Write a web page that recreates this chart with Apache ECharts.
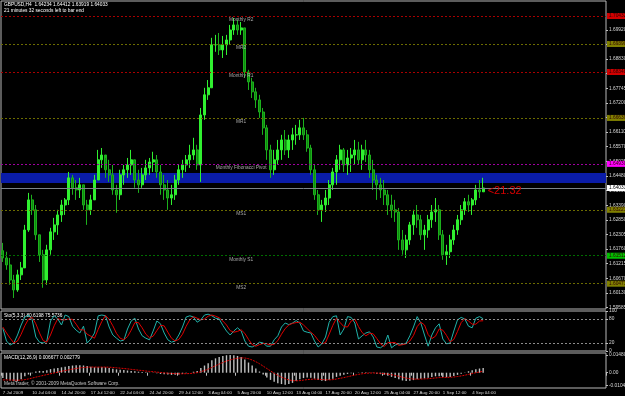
<!DOCTYPE html>
<html>
<head>
<meta charset="utf-8">
<title>GBPUSD,H4</title>
<script src="https://cdn.jsdelivr.net/npm/echarts@6/dist/echarts.min.js"></script>
<style>
html, body { margin: 0; padding: 0; background: #000; }
#chart { width: 625px; height: 396px; }
</style>
</head>
<body>
<div id="chart"></div>
<script>
var firstOpen = 1.6170;
var closes = [
  1.6143, 1.6117, 1.6061, 1.6024, 1.6080, 1.6106, 1.6247, 1.6359, 1.6322, 1.6229,
  1.6155, 1.6061, 1.6173, 1.6240, 1.6266, 1.6303, 1.6340, 1.6359, 1.6441, 1.6404,
  1.6396, 1.6415, 1.6340, 1.6322, 1.6359, 1.6433, 1.6508, 1.6526, 1.6471, 1.6452,
  1.6396, 1.6378, 1.6452, 1.6471, 1.6489, 1.6508, 1.6433, 1.6415, 1.6452, 1.6478,
  1.6500, 1.6508, 1.6463, 1.6415, 1.6396, 1.6366, 1.6378, 1.6433, 1.6471, 1.6489,
  1.6508, 1.6526, 1.6545, 1.6489, 1.6675, 1.6750, 1.6776, 1.6936, 1.6936, 1.6917,
  1.6936, 1.6954, 1.6991, 1.7010, 1.6991, 1.6999, 1.6835, 1.6798, 1.6761, 1.6731,
  1.6686, 1.6627, 1.6545, 1.6471, 1.6508, 1.6545, 1.6582, 1.6545, 1.6582, 1.6601,
  1.6601, 1.6627, 1.6601, 1.6552, 1.6471, 1.6378, 1.6322, 1.6340, 1.6366, 1.6415,
  1.6463, 1.6508, 1.6545, 1.6489, 1.6515, 1.6526, 1.6545, 1.6508, 1.6545, 1.6526,
  1.6471, 1.6433, 1.6415, 1.6396, 1.6378, 1.6340, 1.6322, 1.6314, 1.6210, 1.6173,
  1.6210, 1.6266, 1.6303, 1.6285, 1.6229, 1.6247, 1.6285, 1.6314, 1.6322, 1.6229,
  1.6155, 1.6166, 1.6210, 1.6247, 1.6285, 1.6322, 1.6352, 1.6340, 1.6359, 1.6396,
  1.6389, 1.64033
];
var highs = [
  1.6199, 1.6166, 1.6143, 1.6080, 1.6099, 1.6128, 1.6266, 1.6385, 1.6378, 1.6340,
  1.6229, 1.6173, 1.6192, 1.6255, 1.6292, 1.6322, 1.6359, 1.6366, 1.6463, 1.6452,
  1.6433, 1.6441, 1.6415, 1.6359, 1.6378, 1.6452, 1.6545, 1.6552, 1.6515, 1.6508,
  1.6489, 1.6415, 1.6471, 1.6489, 1.6515, 1.6545, 1.6508, 1.6471, 1.6478, 1.6508,
  1.6515, 1.6538, 1.6526, 1.6489, 1.6452, 1.6433, 1.6415, 1.6452, 1.6489, 1.6508,
  1.6526, 1.6564, 1.6590, 1.6564, 1.6701, 1.6776, 1.6805, 1.6962, 1.6973, 1.6980,
  1.6969, 1.6973, 1.7010, 1.7036, 1.7029, 1.7021, 1.6999, 1.6843, 1.6813, 1.6776,
  1.6750, 1.6701, 1.6638, 1.6564, 1.6545, 1.6582, 1.6601, 1.6619, 1.6601, 1.6627,
  1.6638, 1.6657, 1.6664, 1.6619, 1.6564, 1.6489, 1.6396, 1.6359, 1.6396, 1.6433,
  1.6478, 1.6526, 1.6564, 1.6552, 1.6545, 1.6552, 1.6582, 1.6575, 1.6564, 1.6582,
  1.6545, 1.6508, 1.6452, 1.6441, 1.6433, 1.6396, 1.6378, 1.6359, 1.6329, 1.6247,
  1.6229, 1.6277, 1.6322, 1.6340, 1.6303, 1.6266, 1.6303, 1.6340, 1.6366, 1.6340,
  1.6247, 1.6192, 1.6229, 1.6266, 1.6303, 1.6340, 1.6366, 1.6378, 1.6366, 1.6415,
  1.6433, 1.64412
];
var lows = [
  1.6128, 1.6099, 1.6043, 1.5994, 1.6017, 1.6061, 1.6106, 1.6240, 1.6303, 1.6210,
  1.6128, 1.6032, 1.6043, 1.6155, 1.6210, 1.6229, 1.6277, 1.6303, 1.6340, 1.6378,
  1.6359, 1.6366, 1.6322, 1.6266, 1.6303, 1.6359, 1.6433, 1.6478, 1.6441, 1.6426,
  1.6378, 1.6311, 1.6359, 1.6415, 1.6441, 1.6452, 1.6404, 1.6385, 1.6404, 1.6433,
  1.6452, 1.6463, 1.6441, 1.6378, 1.6359, 1.6322, 1.6340, 1.6359, 1.6415, 1.6441,
  1.6463, 1.6478, 1.6508, 1.6471, 1.6426, 1.6657, 1.6731, 1.6776, 1.6910, 1.6898,
  1.6887, 1.6898, 1.6936, 1.6973, 1.6973, 1.6973, 1.6813, 1.6768, 1.6738, 1.6701,
  1.6664, 1.6601, 1.6508, 1.6441, 1.6452, 1.6489, 1.6508, 1.6526, 1.6515, 1.6545,
  1.6564, 1.6582, 1.6582, 1.6538, 1.6452, 1.6359, 1.6303, 1.6277, 1.6314, 1.6340,
  1.6396, 1.6415, 1.6471, 1.6463, 1.6452, 1.6463, 1.6489, 1.6489, 1.6471, 1.6500,
  1.6441, 1.6396, 1.6359, 1.6366, 1.6340, 1.6303, 1.6292, 1.6277, 1.6173, 1.6155,
  1.6143, 1.6192, 1.6229, 1.6255, 1.6210, 1.6173, 1.6218, 1.6255, 1.6277, 1.6210,
  1.6136, 1.6117, 1.6143, 1.6192, 1.6229, 1.6266, 1.6303, 1.6314, 1.6303, 1.6340,
  1.6366, 1.63919
];

// Stochastic (5,3,3)
var stoMain = [
  57, 25, 15, 20, 40, 65, 85, 90, 78, 35,
  22, 20, 25, 75, 88, 80, 65, 90, 86, 62,
  52, 45, 62, 20, 30, 45, 88, 90, 88, 60,
  40, 32, 25, 27, 55, 75, 82, 55, 38, 32,
  28, 50, 75, 68, 45, 28, 22, 25, 40, 60,
  85, 88, 85, 72, 78, 90, 92, 88, 82, 80,
  64, 50, 40, 50, 58, 50, 25, 12, 10, 15,
  22, 20, 12, 12, 28, 38, 60, 70, 66, 70,
  76, 70, 50, 47, 45, 25, 10, 18, 35, 72,
  86, 88, 40, 55, 86, 84, 70, 30, 38, 45,
  48, 35, 10, 8, 15, 40, 8, 15, 18, 16,
  20, 38, 60, 86, 70, 40, 12, 40, 58, 68,
  30, 18, 20, 50, 78, 84, 80, 62, 58, 82,
  86, 80.6
];
var stoSignal = [
  60, 45, 32, 20, 25, 42, 63, 80, 84, 68,
  45, 26, 22, 40, 63, 81, 78, 78, 80, 79,
  67, 53, 53, 42, 37, 32, 54, 74, 89, 79,
  63, 44, 32, 28, 36, 52, 71, 71, 58, 42,
  33, 37, 51, 64, 63, 47, 32, 25, 29, 42,
  62, 78, 86, 82, 78, 80, 87, 90, 87, 83,
  75, 65, 51, 47, 49, 53, 44, 29, 16, 12,
  16, 19, 18, 15, 17, 26, 42, 56, 65, 69,
  71, 72, 65, 56, 47, 39, 27, 18, 21, 42,
  64, 82, 71, 61, 60, 75, 80, 61, 46, 38,
  44, 43, 31, 18, 11, 21, 21, 21, 14, 16,
  18, 25, 39, 61, 72, 65, 41, 31, 37, 55,
  52, 39, 23, 29, 49, 71, 81, 75, 67, 67,
  75, 75.6
];

// MACD (12,26,9)
var macdHist = [
  -0.0045, -0.0055, -0.0065, -0.0072, -0.0070, -0.0055, -0.0030, -0.0015, -0.0005, 0.0010,
  0.0015, 0.0015, 0.0020, 0.0030, 0.0035, 0.0040, 0.0045, 0.0050, 0.0055, 0.0060,
  0.0062, 0.0062, 0.0060, 0.0055, 0.0050, 0.0045, 0.0045, 0.0048, 0.0045, 0.0040,
  0.0032, 0.0028, 0.0025, 0.0022, 0.0018, 0.0015, 0.0012, 0.0008, 0.0005, 0.0003,
  0.0002, -0.0002, -0.0005, -0.0010, -0.0013, -0.0015, -0.0018, -0.0018, -0.0015, -0.0010,
  -0.0005, 0.0000, 0.0008, 0.0015, 0.0040, 0.0060, 0.0080, 0.0105, 0.0120, 0.0132,
  0.0140, 0.0146, 0.0148, 0.0146, 0.0140, 0.0132, 0.0110, 0.0085, 0.0060, 0.0035,
  0.0010, -0.0015, -0.0040, -0.0060, -0.0075, -0.0088, -0.0095, -0.0100, -0.0095, -0.0085,
  -0.0070, -0.0055, -0.0045, -0.0040, -0.0042, -0.0050, -0.0060, -0.0068, -0.0070, -0.0062,
  -0.0050, -0.0035, -0.0025, -0.0018, -0.0010, -0.0005, 0.0000, 0.0002, 0.0003, 0.0004,
  0.0002, -0.0002, -0.0008, -0.0012, -0.0018, -0.0025, -0.0035, -0.0045, -0.0055, -0.0065,
  -0.0070, -0.0068, -0.0062, -0.0055, -0.0050, -0.0048, -0.0042, -0.0035, -0.0030, -0.0030,
  -0.0035, -0.0038, -0.0035, -0.0028, -0.0018, -0.0008, 0.0002, 0.0012, 0.0020, 0.0028,
  0.0035, 0.0040
];
var macdSignal = [
  -0.0060, -0.0060, -0.0061, -0.0062, -0.0063, -0.0062, -0.0058, -0.0052, -0.0045, -0.0037,
  -0.0030, -0.0023, -0.0016, -0.0009, -0.0002, 0.0005, 0.0012, 0.0018, 0.0024, 0.0030,
  0.0035, 0.0040, 0.0043, 0.0046, 0.0047, 0.0047, 0.0047, 0.0047, 0.0047, 0.0046,
  0.0044, 0.0041, 0.0038, 0.0035, 0.0032, 0.0028, 0.0025, 0.0021, 0.0018, 0.0014,
  0.0011, 0.0008, 0.0005, 0.0002, -0.0001, -0.0004, -0.0006, -0.0008, -0.0009, -0.0009,
  -0.0008, -0.0007, -0.0004, 0.0000, 0.0008, 0.0018, 0.0030, 0.0044, 0.0058, 0.0072,
  0.0085, 0.0097, 0.0107, 0.0115, 0.0121, 0.0124, 0.0123, 0.0117, 0.0106, 0.0092,
  0.0075, 0.0055, 0.0035, 0.0015, -0.0005, -0.0022, -0.0037, -0.0050, -0.0060, -0.0066,
  -0.0068, -0.0066, -0.0062, -0.0058, -0.0055, -0.0054, -0.0055, -0.0057, -0.0059, -0.0060,
  -0.0058, -0.0053, -0.0047, -0.0041, -0.0034, -0.0027, -0.0020, -0.0014, -0.0009, -0.0005,
  -0.0003, -0.0002, -0.0003, -0.0005, -0.0008, -0.0012, -0.0017, -0.0023, -0.0030, -0.0038,
  -0.0045, -0.0050, -0.0053, -0.0054, -0.0053, -0.0052, -0.0050, -0.0047, -0.0044, -0.0041,
  -0.0040, -0.0039, -0.0038, -0.0036, -0.0032, -0.0027, -0.0021, -0.0014, -0.0007, 0.0000,
  0.0006, 0.0012
];

// monthly pivot levels
var levelNames = ['Monthly R2', 'MR2', 'Monthly R1', 'MR1', 'Monthly Fibonacci Pivot', 'MS1', 'Monthly S1', 'MS2'];
var levelValues = [1.70432, 1.69390, 1.68348, 1.66639, 1.64930, 1.63221, 1.61512, 1.60471];
var levelColors = ['#a80000', '#6c6c00', '#a80000', '#6c6c00', '#a000a0', '#6c6c00', '#006e00', '#6c6c00'];
var levelBoxColors = ['#d00000', '#808000', '#d00000', '#808000', '#ff00ff', '#808000', '#00c000', '#808000'];
var bandRange = [1.64219, 1.64591];
var lastPrice = 1.64033;

// tick labels
var priceTicks = [1.69920, 1.69375, 1.68830, 1.68285, 1.67745, 1.67200, 1.66655, 1.66110, 1.65570, 1.65025,
  1.64480, 1.63935, 1.63390, 1.62850, 1.62305, 1.61760, 1.61215, 1.60670, 1.60130, 1.59585];
var stoTicks = [0, 20, 80, 100];
var macdTicks = [-0.0105, 0, 0.0148];
var macdTickText = ['-0.010462', '0.00', '0.014803'];
var xTickIndex = [0, 8, 16, 24, 32, 40, 48, 56, 64, 72, 80, 88, 96, 104, 112, 120, 128];
var xTickText = ['7 Jul 2009', '10 Jul 04:00', '14 Jul 20:00', '17 Jul 12:00', '22 Jul 04:00', '24 Jul 20:00',
  '29 Jul 12:00', '3 Aug 04:00', '5 Aug 20:00', '10 Aug 12:00', '13 Aug 04:00', '17 Aug 20:00',
  '20 Aug 12:00', '25 Aug 04:00', '27 Aug 20:00', '1 Sep 12:00', '4 Sep 04:00'];
var emptyBars = 33; // free space right of the last bar

var FONT = 'Liberation Sans';
var TXT = '#d8d8d8';
var FS = 4.8;

var chart = echarts.init(document.getElementById('chart'));

// category slots = bars + empty space
var cats = [];
for (var i = 0; i < closes.length + emptyBars; i++) cats.push(String(i));

// candles: [open, close, low, high]
var candles = closes.map(function (c, i) {
  var o = i === 0 ? firstOpen : closes[i - 1];
  return [o, c, lows[i], highs[i]];
});

var levelLines = levelValues.map(function (v, i) {
  return {
    yAxis: v,
    lineStyle: { color: levelColors[i], type: [2, 2], width: 1 },
    label: { backgroundColor: levelBoxColors[i], color: '#300000' }
  };
});
levelLines.push({
  yAxis: lastPrice,
  lineStyle: { color: '#7c848a', type: 'solid', width: 1 },
  label: { backgroundColor: '#ffffff', color: '#000000' }
});

var levelTexts = levelValues.map(function (v, i) {
  return { coord: [65, v], value: levelNames[i] };
});

function xAxisFor(idx, showLabels) {
  return {
    type: 'category', gridIndex: idx, data: cats, boundaryGap: true,
    axisLine: { show: false },
    axisTick: showLabels ? {
      show: true, length: 3, lineStyle: { color: '#c0c0c0' },
      interval: function (index) { return xTickIndex.indexOf(index) >= 0; }
    } : { show: false },
    axisLabel: showLabels ? {
      show: true, color: TXT, fontSize: 4.4, fontFamily: FONT, align: 'left', margin: 3,
      interval: function (index) { return xTickIndex.indexOf(index) >= 0; },
      formatter: function (value, index) {
        var k = xTickIndex.indexOf(index);
        return k >= 0 ? xTickText[k] : '';
      }
    } : { show: false },
    splitLine: { show: false }
  };
}

function paneGrid(top, height) {
  return {
    left: 1, top: top, width: 605, height: height, outerBoundsMode: 'none', containLabel: false,
    show: true, borderColor: '#b8b8b8', borderWidth: 1, backgroundColor: 'transparent'
  };
}

var option = {
  animation: false,
  backgroundColor: '#000000',
  grid: [paneGrid(1, 308), paneGrid(311, 40), paneGrid(353, 35)],
  xAxis: [xAxisFor(0, false), xAxisFor(1, false), xAxisFor(2, true)],
  yAxis: [
    {
      gridIndex: 0, type: 'value', position: 'right', min: 1.5953, max: 1.7099,
      axisLine: { show: false },
      axisTick: { show: true, length: 2, customValues: priceTicks, lineStyle: { color: '#c0c0c0' } },
      axisLabel: {
        customValues: priceTicks, color: TXT, fontSize: FS, fontFamily: FONT, margin: 3,
        formatter: function (v) { return v.toFixed(5); }
      },
      splitLine: { show: false }
    },
    {
      gridIndex: 1, type: 'value', position: 'right', min: 0, max: 100,
      axisLine: { show: false },
      axisTick: { show: true, length: 2, customValues: stoTicks, lineStyle: { color: '#c0c0c0' } },
      axisLabel: { customValues: stoTicks, color: TXT, fontSize: FS, fontFamily: FONT, margin: 3 },
      splitLine: { show: false }
    },
    {
      gridIndex: 2, type: 'value', position: 'right', min: -0.01279, max: 0.01647,
      axisLine: { show: false },
      axisTick: { show: true, length: 2, customValues: macdTicks, lineStyle: { color: '#c0c0c0' } },
      axisLabel: {
        customValues: macdTicks, color: TXT, fontSize: FS, fontFamily: FONT, margin: 3,
        formatter: function (v) {
          var k = macdTicks.indexOf(v);
          return k >= 0 ? macdTickText[k] : '';
        }
      },
      splitLine: { show: false }
    }
  ],
  graphic: [
    { type: 'text', left: 4, top: 2, style: { text: 'GBPUSD,H4  1.64234 1.64412 1.63919 1.64033', fill: '#ffffff', font: FS + 'px ' + FONT } },
    { type: 'text', left: 4, top: 8, style: { text: '21 minutes 32 seconds left to bar end', fill: '#ffffff', font: FS + 'px ' + FONT } },
    { type: 'text', left: 4, top: 313, style: { text: 'Sto(5,3,3) 80.6198 75.5736', fill: '#ffffff', font: FS + 'px ' + FONT } },
    { type: 'text', left: 4, top: 355, style: { text: 'MACD(12,26,9) 0.006677 0.002779', fill: '#ffffff', font: FS + 'px ' + FONT } },
    { type: 'text', left: 4, top: 381, style: { text: 'MetaTrader, \u00a9 2001-2009 MetaQuotes Software Corp.', fill: '#c8c8c8', font: FS + 'px ' + FONT } }
  ],
  series: [
    {
      name: 'band', type: 'line', xAxisIndex: 0, yAxisIndex: 0, z: 1,
      data: closes, symbol: 'none', silent: true, lineStyle: { opacity: 0 },
      markArea: {
        silent: true,
        itemStyle: { color: '#0a1ca8' },
        data: [[{ yAxis: bandRange[0] }, { yAxis: bandRange[1] }]]
      }
    },
    {
      name: 'levels', type: 'line', xAxisIndex: 0, yAxisIndex: 0, z: 2,
      data: [], symbol: 'none', silent: true,
      markLine: {
        silent: true, symbol: ['none', 'none'], precision: 5,
        label: {
          show: true, position: 'end', distance: 1, fontSize: FS, fontFamily: FONT,
          padding: [1, 2, 0, 2],
          formatter: function (p) { return p.value.toFixed(5); }
        },
        data: levelLines
      },
      markPoint: {
        silent: true, symbol: 'rect', symbolSize: [1, 1],
        itemStyle: { color: 'rgba(0,0,0,0)' },
        label: {
          show: true, position: 'bottom', distance: 1, color: '#a8a8a8',
          fontSize: FS, fontFamily: FONT,
          formatter: function (p) { return p.value; }
        },
        data: levelTexts
      }
    },
    {
      name: 'GBPUSD', type: 'candlestick', xAxisIndex: 0, yAxisIndex: 0, z: 3,
      data: candles, barWidth: '60%',
      itemStyle: {
        color: '#30f030', color0: '#0e8a0e',
        borderColor: '#30f030', borderColor0: '#1cb01c', borderWidth: 1
      },
      markPoint: {
        silent: true, symbol: 'rect', symbolSize: [1, 1],
        itemStyle: { color: 'rgba(0,0,0,0)' },
        label: {
          show: true, position: 'right', distance: 4, offset: [0, 3],
          color: '#d40000', fontSize: 11, fontFamily: FONT,
          formatter: '<21:32'
        },
        data: [{ coord: [closes.length - 1, lastPrice] }]
      }
    },
    {
      name: 'StoMain', type: 'line', xAxisIndex: 1, yAxisIndex: 1,
      data: stoMain, symbol: 'none', lineStyle: { color: '#20b2aa', width: 1 },
      markLine: {
        silent: true, symbol: ['none', 'none'], label: { show: false },
        lineStyle: { color: '#8c8c8c', type: [2, 2], width: 1 },
        data: [{ yAxis: 20 }, { yAxis: 80 }]
      }
    },
    {
      name: 'StoSignal', type: 'line', xAxisIndex: 1, yAxisIndex: 1,
      data: stoSignal, symbol: 'none', lineStyle: { color: '#e00000', width: 1 }
    },
    {
      name: 'MACD', type: 'bar', xAxisIndex: 2, yAxisIndex: 2,
      data: macdHist, barWidth: 1.4, itemStyle: { color: '#c0c0c0' }
    },
    {
      name: 'Signal', type: 'line', xAxisIndex: 2, yAxisIndex: 2, z: 3,
      data: macdSignal, symbol: 'none', lineStyle: { color: '#e00000', width: 1, type: [2, 1] }
    }
  ]
};

chart.setOption(option);
</script>
</body>
</html>
